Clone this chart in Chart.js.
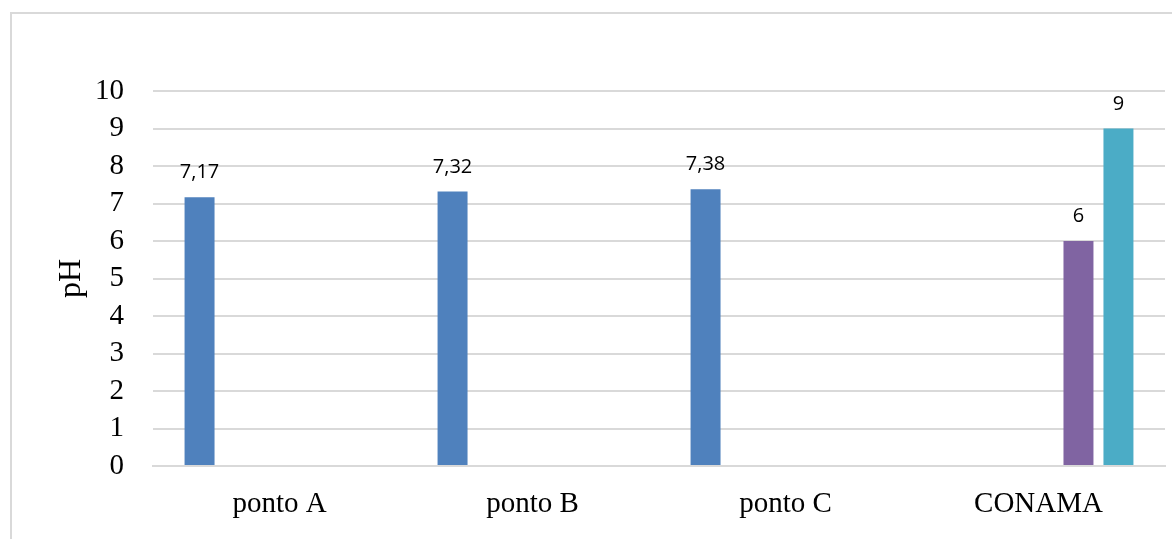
<!DOCTYPE html>
<html>
<head>
<meta charset="utf-8">
<script src="https://cdn.jsdelivr.net/npm/chart.js@4/dist/chart.umd.min.js"></script>
<style>
  html, body { margin: 0; padding: 0; background: #fff; overflow: hidden; }
  #frame { position: absolute; left: 10px; top: 12px; right: -20px; bottom: -20px;
           border-left: 2px solid #d9d9d9; border-top: 2px solid #d9d9d9; }
  #wrap { position: absolute; left: 0; top: 0; width: 1172px; height: 539px; }
</style>
</head>
<body>
<div id="frame"></div>
<div id="wrap"><canvas id="myChart" width="1172" height="539"></canvas></div>
<script>
// categories and values
var categories = ['ponto A', 'ponto B', 'ponto C', 'CONAMA'];
var serieAmostras = [7.17, 7.32, 7.38, null];
var serie2 = [null, null, null, null];
var serie3 = [null, null, null, null];
var conamaMin = [null, null, null, 6];
var conamaMax = [null, null, null, 9];
var yTicks = [0, 1, 2, 3, 4, 5, 6, 7, 8, 9, 10];

var serif = '"Liberation Serif", "Times New Roman", serif';

// draws the value above each bar, with a decimal comma
var valueLabels = {
    id: 'valueLabels',
    afterDatasetsDraw: function (chart) {
        var ctx = chart.ctx;
        ctx.save();
        ctx.font = '20px "Open Sans", "Noto Sans", sans-serif';
        ctx.fillStyle = '#000';
        ctx.textAlign = 'center';
        ctx.textBaseline = 'alphabetic';
        chart.data.datasets.forEach(function (ds, i) {
            var meta = chart.getDatasetMeta(i);
            meta.data.forEach(function (bar, j) {
                var v = ds.data[j];
                if (v === null || v === undefined) return;
                var txt = String(v).replace('.', ',');
                ctx.fillText(txt, bar.x, bar.y - 19);
            });
        });
        ctx.restore();
    }
};

window.myChart = document.getElementById('myChart').getContext('2d');

var phChart = new Chart(window.myChart, {
    type: 'bar',
    data: {
        labels: categories,
        datasets: [
            { label: 'pH', data: serieAmostras, backgroundColor: '#4F81BD' },
            { label: 'Série 2', data: serie2, backgroundColor: '#C0504D' },
            { label: 'Série 3', data: serie3, backgroundColor: '#9BBB59' },
            { label: 'CONAMA mín.', data: conamaMin, backgroundColor: '#8064A2' },
            { label: 'CONAMA máx.', data: conamaMax, backgroundColor: '#4BACC6' }
        ]
    },
    options: {
        responsive: false,
        animation: false,
        categoryPercentage: 0.79,
        barPercentage: 0.75,
        layout: { padding: { top: 91, right: 7, left: 0, bottom: 0 } },
        scales: {
            x: {
                grid: { display: false, drawTicks: false },
                border: { display: true, color: '#d9d9d9', width: 2 },
                ticks: { color: '#000', font: { family: serif, size: 29 }, padding: 21, autoSkip: false },
                afterFit: function (scale) { scale.height = 73; }
            },
            y: {
                min: 0,
                max: 10,
                afterBuildTicks: function (scale) {
                    scale.ticks = yTicks.map(function (v) { return { value: v }; });
                },
                grid: { color: '#d9d9d9', lineWidth: 2, drawTicks: false },
                border: { display: false },
                ticks: { color: '#000', font: { family: serif, size: 29 }, padding: 29, autoSkip: false },
                title: {
                    display: true,
                    text: 'pH',
                    color: '#000',
                    font: { family: serif, size: 32 },
                    padding: { top: 52, bottom: 0 }
                },
                afterFit: function (scale) { scale.width = 153; }
            }
        },
        plugins: {
            legend: { display: false },
            tooltip: { enabled: false }
        }
    },
    plugins: [valueLabels]
});
</script>
</body>
</html>
